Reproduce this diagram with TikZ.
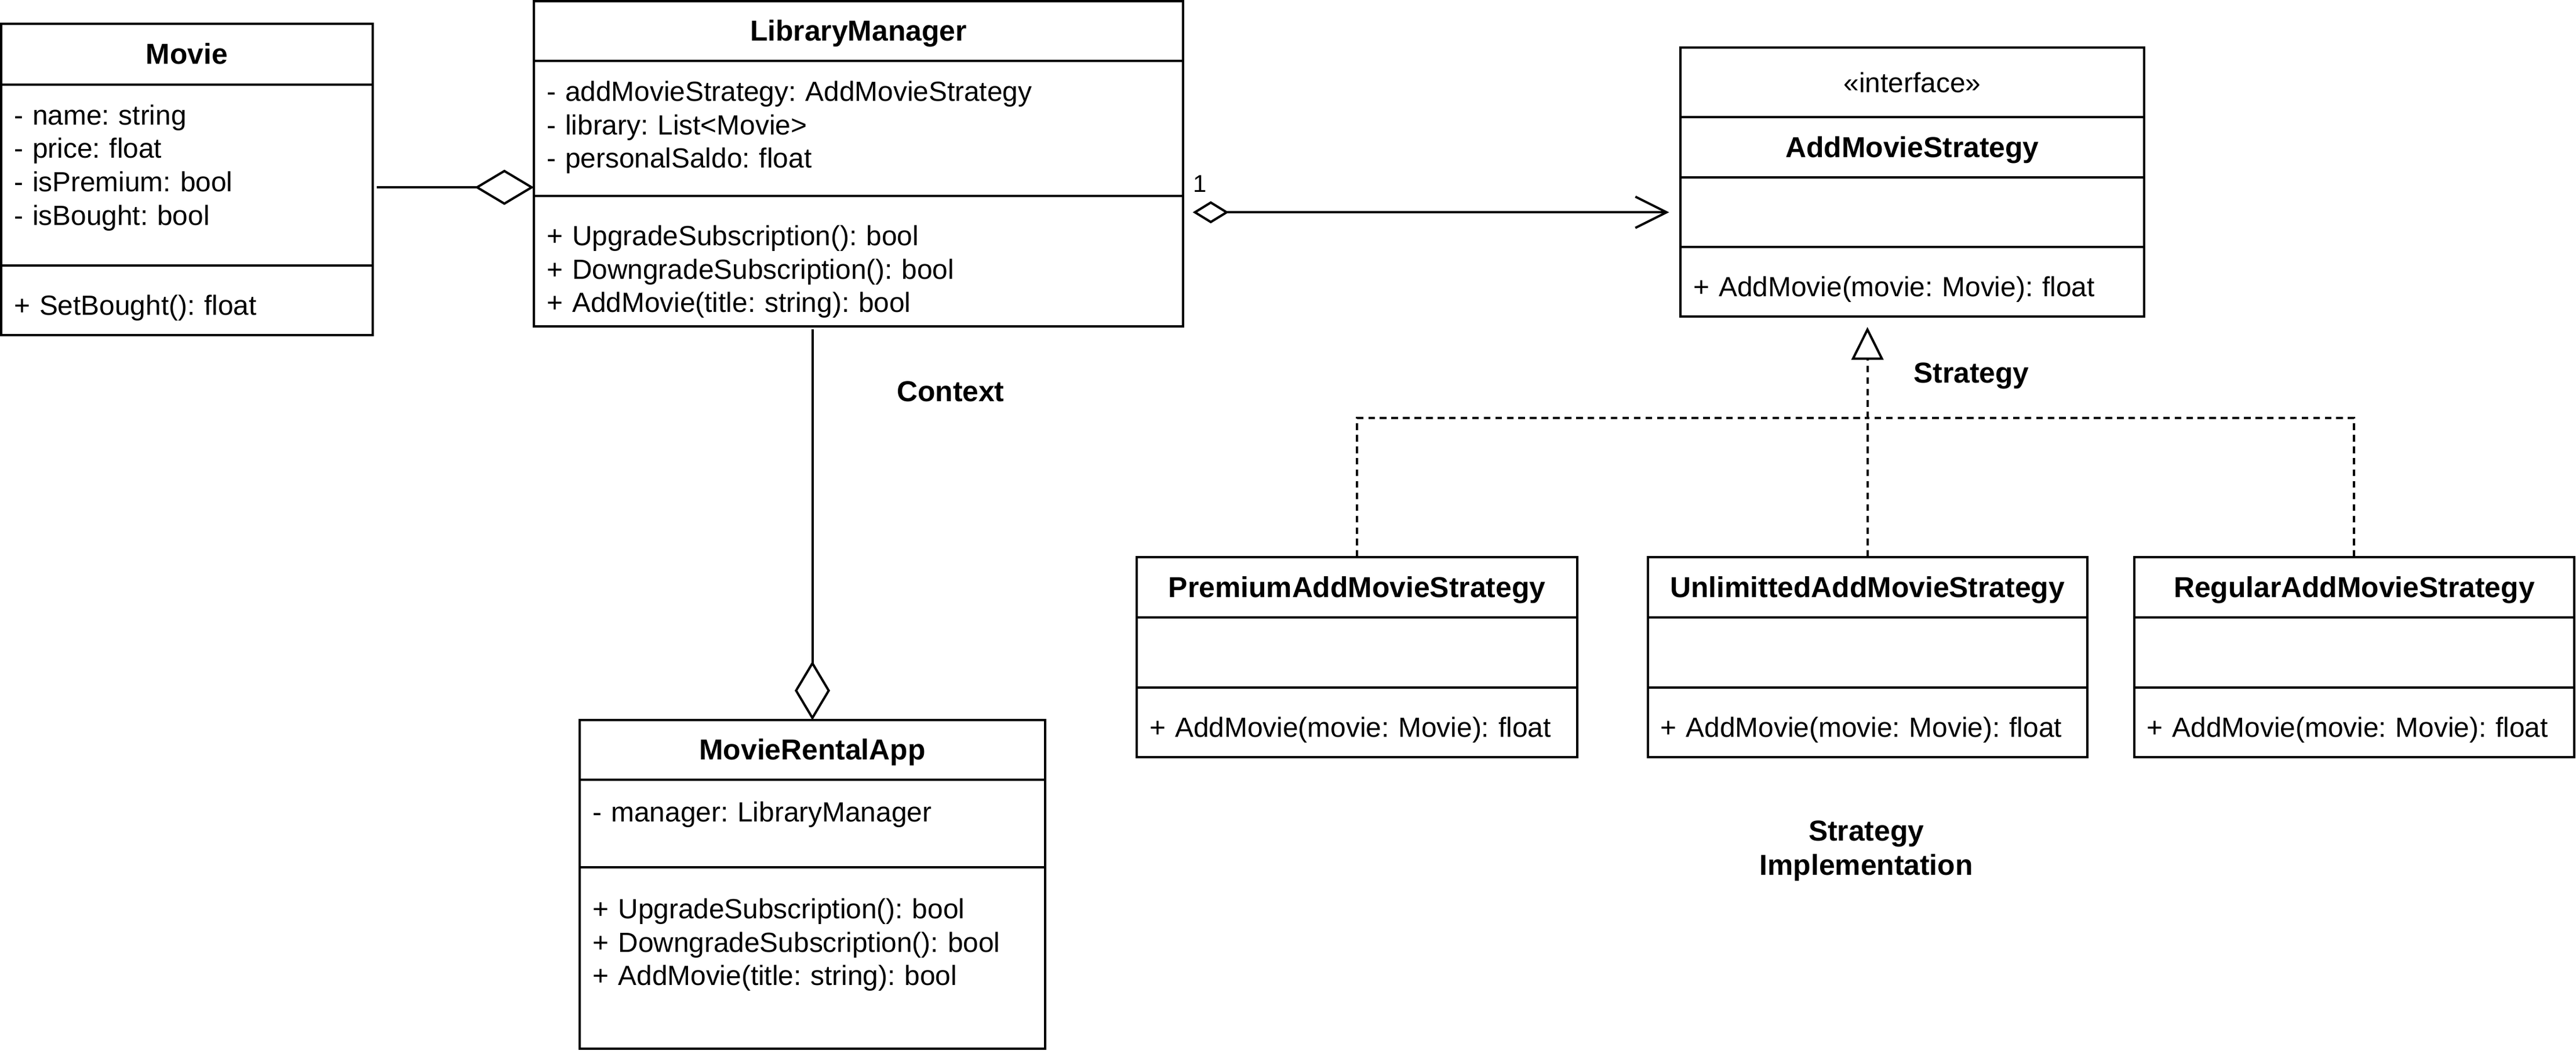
\documentclass[tikz,border=0pt]{standalone}
\usepackage{fontspec}
\setmainfont{Liberation Sans}
\usetikzlibrary{positioning, arrows.meta}

\newcommand{\gu}{0.02cm}
\frenchspacing

\tikzset{
    part/.style = {draw, line width=0.8pt, inner sep=0pt, outer sep=0pt, anchor=north west, text height=6.9pt, text depth=0pt},
    title/.style = {part, font=\bfseries},
    members/.style = {inner sep=0pt, align=left, text width=8cm, execute at begin node=\strut},
    note/.style = {inner sep=0pt, font=\bfseries, text height=6.9pt, text depth=0pt},
    mult/.style = {inner sep=0pt, font=\fontsize{8.4pt}{10pt}\selectfont, text height=6pt, text depth=0pt},
    agg/.style = {{Diamond[open, length=0.72cm, width=0.43cm]}-, line width=0.8pt},
    real/.style = {line width=0.8pt, dash pattern=on 2.3pt off 1.7pt}
}

\begin{document}
\begin{tikzpicture}[x=\gu, y=-\gu, font=\fontsize{9.6pt}{11.57pt}\selectfont]
    \useasboundingbox (0,0) rectangle (1568,643.6);

    % Movie
    \node [title, minimum width=226*\gu, minimum height=36.8*\gu] (movie) at (0.7,14.6) {Movie};
    \node [part, below=0pt of movie, minimum width=226*\gu, minimum height=110.2*\gu] (movieA) {};
    \node [part, below=0pt of movieA, minimum width=226*\gu, minimum height=42.4*\gu] (movieM) {};
    \node [members, below right=0.2cm and 0.15cm of movieA.north west] (movieAt) {- name: string\\- price: float\\- isPremium: bool\\- isBought: bool};
    \node [members, below right=0.31cm and 0.15cm of movieM.north west] (movieMt) {+ SetBought(): float};

    % LibraryManager
    \node [title, minimum width=395*\gu, minimum height=36.3*\gu] (lm) at (325,0.7) {LibraryManager};
    \node [part, below=0pt of lm, minimum width=395*\gu, minimum height=82.4*\gu] (lmA) {};
    \node [part, below=0pt of lmA, minimum width=395*\gu, minimum height=79.1*\gu] (lmM) {};
    \node [members, below right=0.2cm and 0.15cm of lmA.north west] (lmAt) {- addMovieStrategy: AddMovieStrategy\\- library: List<Movie>\\- personalSaldo: float};
    \node [members, below right=0.31cm and 0.15cm of lmM.north west] (lmMt) {+ UpgradeSubscription(): bool\\+ DowngradeSubscription(): bool\\+ AddMovie(title: string): bool};

    % AddMovieStrategy
    \node [part, minimum width=282*\gu, minimum height=42.6*\gu] (ams) at (1023,28.8) {«interface»};
    \node [title, below=0pt of ams, minimum width=282*\gu, minimum height=36.6*\gu] (amsN) {AddMovieStrategy};
    \node [part, below=0pt of amsN, minimum width=282*\gu, minimum height=42.4*\gu] (amsA) {};
    \node [part, below=0pt of amsA, minimum width=282*\gu, minimum height=42.3*\gu] (amsM) {};
    \node [members, below right=0.31cm and 0.15cm of amsM.north west] (amsMt) {+ AddMovie(movie: Movie): float};

    % strategies
    \node [title, minimum width=268*\gu, minimum height=36.9*\gu] (prem) at (692,339) {PremiumAddMovieStrategy};
    \node [part, below=0pt of prem, minimum width=268*\gu, minimum height=42.5*\gu] (premA) {};
    \node [part, below=0pt of premA, minimum width=268*\gu, minimum height=42.4*\gu] (premM) {};
    \node [members, below right=0.31cm and 0.15cm of premM.north west] (premMt) {+ AddMovie(movie: Movie): float};

    \node [title, minimum width=267.4*\gu, minimum height=36.9*\gu] (unl) at (1003,339) {UnlimittedAddMovieStrategy};
    \node [part, below=0pt of unl, minimum width=267.4*\gu, minimum height=42.5*\gu] (unlA) {};
    \node [part, below=0pt of unlA, minimum width=267.4*\gu, minimum height=42.4*\gu] (unlM) {};
    \node [members, below right=0.31cm and 0.15cm of unlM.north west] (unlMt) {+ AddMovie(movie: Movie): float};

    \node [title, minimum width=268*\gu, minimum height=36.9*\gu] (reg) at (1299,339) {RegularAddMovieStrategy};
    \node [part, below=0pt of reg, minimum width=268*\gu, minimum height=42.5*\gu] (regA) {};
    \node [part, below=0pt of regA, minimum width=268*\gu, minimum height=42.4*\gu] (regM) {};
    \node [members, below right=0.31cm and 0.15cm of regM.north west] (regMt) {+ AddMovie(movie: Movie): float};

    % MovieRentalApp
    \node [title, minimum width=283*\gu, minimum height=36.1*\gu] (mra) at (353,438.3) {MovieRentalApp};
    \node [part, below=0pt of mra, minimum width=283*\gu, minimum height=53.6*\gu] (mraA) {};
    \node [part, below=0pt of mraA, minimum width=283*\gu, minimum height=110.4*\gu] (mraM) {};
    \node [members, below right=0.22cm and 0.15cm of mraA.north west] (mraAt) {- manager: LibraryManager};
    \node [members, below right=0.33cm and 0.15cm of mraM.north west] (mraMt) {+ UpgradeSubscription(): bool\\+ DowngradeSubscription(): bool\\+ AddMovie(title: string): bool};

    % labels
    \node [note] (context) at (578.6,238.3) {Context};
    \node [note] (strat) at (1200,227) {Strategy};
    \node [inner sep=0pt, font=\bfseries, align=center, anchor=north, execute at begin node=\strut] (impl) at (1136,499) {Strategy\\Implementation};
    \node [mult] (one) at (730.4,111.8) {1};

    % connectors
    \coordinate (mvOut) at ([xshift=2.5*\gu, yshift=-7.5*\gu]movieA.east);
    \draw [agg] (lmA.west |- mvOut) -- (mvOut);
    \draw [agg, shorten >=0.04cm] (mra.north) -- (mra.north |- lmM.south);
    \draw [{Diamond[open, length=0.44cm, width=0.27cm]}-{Straight Barb[length=0.38cm, width=0.38cm]}, line width=0.8pt, shorten <=0.12cm, shorten >=0.14cm] (lmM.east |- amsA.west) -- (amsA.west);

    \coordinate (split) at ([yshift=1.69cm]unl.north);
    \draw [real] (prem.north) |- (split);
    \draw [real] (reg.north) |- (split);
    \draw [real, -{Triangle[open, length=0.4cm, width=0.39cm]}, shorten >=0.126cm] (unl.north) -- (unl.north |- amsM.south);
\end{tikzpicture}
\end{document}
